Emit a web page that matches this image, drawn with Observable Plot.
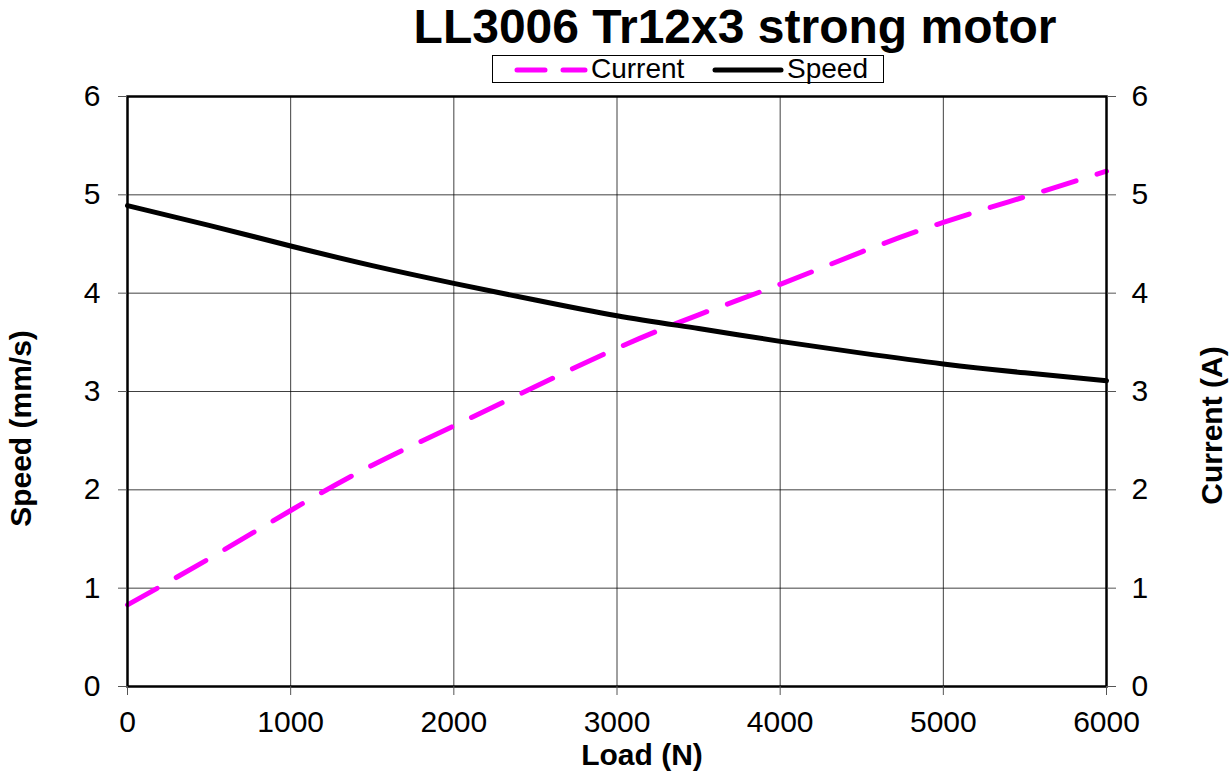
<!DOCTYPE html>
<html>
<head>
<meta charset="utf-8">
<script src="https://cdn.jsdelivr.net/npm/d3@7"></script>
<script src="https://cdn.jsdelivr.net/npm/@observablehq/plot@0.6"></script>
<style>
  html, body { margin: 0; padding: 0; background: #fff; }
  body { width: 1229px; height: 771px; overflow: hidden; font-family: "Liberation Sans", Arial, sans-serif; }
  #header { position: relative; width: 1229px; height: 86px; }
  #title { position: absolute; left: 255px; width: 960px; top: 0px; text-align: center; font-size: 48px; font-weight: bold; line-height: 54px; color: #000; white-space: nowrap; }
  #legend { position: absolute; left: 492px; top: 55px; width: 392px; height: 28px; border: 1px solid #000; box-sizing: border-box; font-size: 28px; line-height: 26px; color: #000; white-space: nowrap; }
  #legend svg { position: absolute; top: 0; left: 0; }
  .lt { position: absolute; top: 0px; }
</style>
</head>
<body>
<div id="header">
  <div id="title">LL3006 Tr12x3 strong motor</div>
  <div id="legend"></div>
</div>
<div id="chart"></div>
<script>
const load = [0, 500, 1000, 1500, 2000, 2500, 3000, 3500, 4000, 4500, 5000, 5500, 6000];
const speed = [4.89, 4.69, 4.48, 4.28, 4.10, 3.93, 3.77, 3.64, 3.51, 3.39, 3.28, 3.19, 3.11];
const current = [0.83, 1.30, 1.79, 2.25, 2.65, 3.05, 3.44, 3.78, 4.09, 4.42, 4.72, 4.98, 5.24];
const xTicks = [0, 1000, 2000, 3000, 4000, 5000, 6000];
const yTicks = [0, 1, 2, 3, 4, 5, 6];
const seriesNames = ["Current", "Speed"];
const seriesColors = ["#ff00ff", "#000000"];
const axisTitles = {x: "Load (N)", yLeft: "Speed (mm/s)", yRight: "Current (A)"};

const rows = load.map((l, i) => ({load: l, speed: speed[i], current: current[i]}));

// legend
const legend = document.getElementById("legend");
legend.innerHTML = `
<svg width="392" height="28">
  <line x1="24" y1="14" x2="92" y2="14" stroke="${seriesColors[0]}" stroke-width="5" stroke-linecap="round" stroke-dasharray="28,18"/>
  <line x1="222" y1="14" x2="288" y2="14" stroke="${seriesColors[1]}" stroke-width="5" stroke-linecap="round"/>
</svg>
<span class="lt" style="left:98px">${seriesNames[0]}</span>
<span class="lt" style="left:294px">${seriesNames[1]}</span>`;

const fontFamily = '"Liberation Sans", Arial, sans-serif';
const fmt = d => String(d);

const chart = Plot.plot({
  width: 1229,
  height: 685,
  marginTop: 10,
  marginBottom: 85,
  marginLeft: 127,
  marginRight: 123,
  style: {fontFamily, fontSize: "30px", color: "#000", background: "#fff", overflow: "visible"},
  x: {domain: [0, 6000]},
  y: {domain: [0, 6]},
  marks: [
    Plot.gridX(xTicks, {stroke: "#000", strokeOpacity: 0.75, strokeWidth: 1}),
    Plot.gridY(yTicks, {stroke: "#000", strokeOpacity: 0.75, strokeWidth: 1}),
    Plot.line(rows, {x: "load", y: "current", stroke: seriesColors[0], strokeWidth: 5, strokeDasharray: "34,22", strokeLinecap: "round", curve: "natural"}),
    Plot.line(rows, {x: "load", y: "speed", stroke: seriesColors[1], strokeWidth: 5, curve: "natural"}),
    Plot.frame({stroke: "#000", strokeWidth: 2.5}),
    Plot.axisX(xTicks, {anchor: "bottom", tickSize: 9, tickPadding: 15, fontSize: 30, label: null, stroke: "#555", tickFormat: fmt}),
    Plot.axisY(yTicks, {anchor: "left", tickSize: 9, tickPadding: 18, fontSize: 30, label: null, stroke: "#555", tickFormat: fmt}),
    Plot.axisY(yTicks, {anchor: "right", tickSize: 9, tickPadding: 16, fontSize: 30, label: null, stroke: "#555", tickFormat: fmt}),
    Plot.text([axisTitles.x], {text: d => d, frameAnchor: "bottom", textAnchor: "middle", dx: 25, dy: 78, fontSize: 30, fontWeight: "bold", fill: "#000"}),
    Plot.text([axisTitles.yLeft], {text: d => d, frameAnchor: "left", textAnchor: "middle", rotate: -90, dx: -106, dy: 37, fontSize: 30, fontWeight: "bold", fill: "#000"}),
    Plot.text([axisTitles.yRight], {text: d => d, frameAnchor: "right", textAnchor: "middle", rotate: -90, dx: 106, dy: 34, fontSize: 30, fontWeight: "bold", fill: "#000"})
  ]
});
document.getElementById("chart").appendChild(chart);
</script>
</body>
</html>
